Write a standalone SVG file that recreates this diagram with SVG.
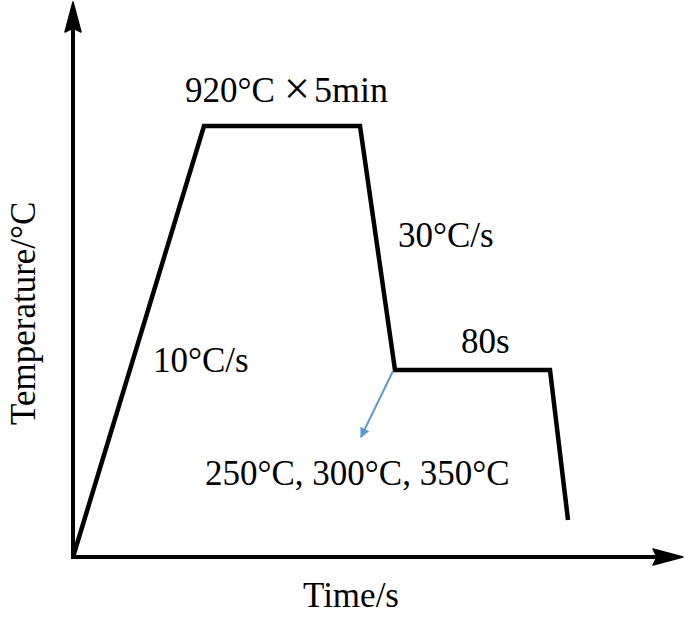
<svg xmlns="http://www.w3.org/2000/svg" width="685" height="617" viewBox="0 0 685 617">
<style>
text{font-family:"Liberation Serif","Times New Roman",serif;font-size:35px;fill:#000}
.ax{stroke:#000;stroke-width:4;fill:none}
.curve{stroke:#000;stroke-width:4.5;fill:none;stroke-linejoin:miter}
</style>
<defs>
<marker id="ah" viewBox="0 0 10 10" refX="9" refY="5" markerWidth="10" markerHeight="10" markerUnits="userSpaceOnUse" orient="auto">
<path d="M0,0 L10,5 L0,10 z" fill="#5b9bd5"/>
</marker>
</defs>
<rect width="685" height="617" fill="#fff"/>
<g id="connectors">
<line class="ax" x1="73" y1="559" x2="73" y2="28"/>
<path d="M73,2 L81,32 L73,28 L65,32 z" fill="#000" stroke="#000" stroke-width="1.5" stroke-linejoin="round"/>
<line class="ax" x1="71" y1="557" x2="658" y2="557"/>
<path d="M683,557 L653,549 L657,557 L653,565 z" fill="#000" stroke="#000" stroke-width="1.5" stroke-linejoin="round"/>
<path class="curve" d="M73,557 L204,126 L360,126 L395,370 L550,370 L568,520"/>
<line x1="393" y1="371" x2="361" y2="437" stroke="#5b9bd5" stroke-width="2" marker-end="url(#ah)"/>
</g>
<g id="labels">
<text x="185" y="102">920°C <tspan x="284" y="104" style="font-size:46px">×</tspan><tspan x="314" y="102" style="font-size:36px">5min</tspan></text>
<text x="398" y="247">30°C/s</text>
<text x="153" y="372">10°C/s</text>
<text x="461" y="353">80s</text>
<text x="205" y="485">250°C, 300°C, 350°C</text>
<text x="303" y="607">Time/s</text>
<text transform="translate(35,425) rotate(-90)">Temperature/°C</text>
</g>
</svg>
